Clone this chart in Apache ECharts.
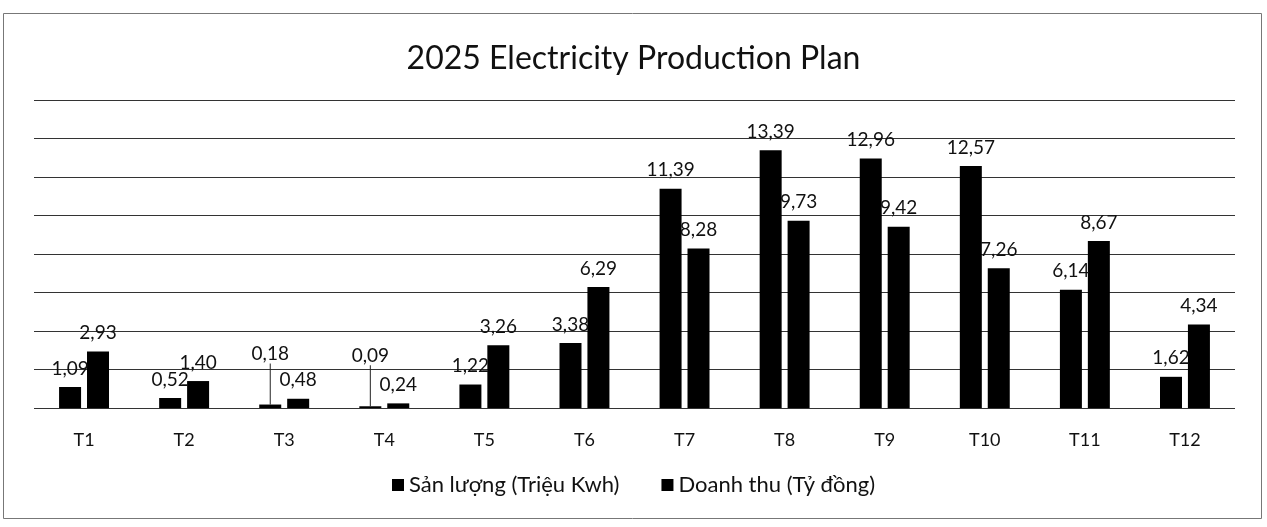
<!DOCTYPE html>
<html>
<head>
    <meta charset="utf-8">
    <title>2025 Electricity Production Plan</title>
    <script src="https://cdn.jsdelivr.net/npm/echarts@6/dist/echarts.min.js"></script>
    <style>
        body { margin: 0; background: #fff; }
    </style>
</head>
<body>
    <div id="main" style="width: 1267px;height:527px;"></div>
    <script type="text/javascript">
        var months = ['T1', 'T2', 'T3', 'T4', 'T5', 'T6', 'T7', 'T8', 'T9', 'T10', 'T11', 'T12'];
        var sanLuong = [1.09, 0.52, 0.18, 0.09, 1.22, 3.38, 11.39, 13.39, 12.96, 12.57, 6.14, 1.62];
        var doanhThu = [2.93, 1.40, 0.48, 0.24, 3.26, 6.29, 8.28, 9.73, 9.42, 7.26, 8.67, 4.34];
        var seriesNames = ['Sản lượng (Triệu Kwh)', 'Doanh thu (Tỷ đồng)'];

        var font = 'Lato, "Noto Sans", sans-serif';
        var myChart = echarts.init(document.getElementById('main'));

        function fmt(p) {
            return p.value.toFixed(2).replace('.', ',');
        }

        // T3, T4: nhan dat cao hon, co duong noi xuong cot
        var raised = [2, 3];
        var sanLuongData = sanLuong.map(function (v, i) {
            if (raised.indexOf(i) >= 0) {
                return { value: v, labelLine: { show: true } };
            }
            return v;
        });

        var barLabel = {
            show: true,
            position: 'top',
            distance: 9,
            color: '#111',
            fontSize: 19,
            fontFamily: font,
            formatter: fmt
        };

        var option = {
            animation: false,
            title: {
                text: '2025 Electricity Production Plan',
                left: 'center',
                top: 38,
                textStyle: { fontSize: 32, fontWeight: 'normal', color: '#111', fontFamily: font }
            },
            legend: {
                bottom: 26,
                left: 'center',
                itemWidth: 12,
                itemHeight: 12,
                itemGap: 42,
                icon: 'rect',
                textStyle: { fontSize: 22, color: '#111', fontFamily: font },
                data: seriesNames
            },
            grid: { left: 34, right: 32, top: 100, bottom: 119 },
            xAxis: {
                type: 'category',
                data: months,
                axisLine: { show: false },
                axisTick: { show: false },
                axisLabel: { fontSize: 18, color: '#111', fontFamily: font, margin: 23 }
            },
            yAxis: {
                type: 'value',
                min: 0,
                max: 16,
                interval: 2,
                axisLabel: { show: false },
                axisLine: { show: false },
                axisTick: { show: false },
                splitLine: { lineStyle: { color: '#333', width: 1.2 } }
            },
            series: [
                {
                    name: seriesNames[0],
                    type: 'bar',
                    data: sanLuongData,
                    barWidth: 22,
                    barGap: '27%',
                    itemStyle: { color: '#000' },
                    label: barLabel,
                    labelLine: { show: false, lineStyle: { color: '#222', width: 1 } },
                    labelLayout: function (p) {
                        if (raised.indexOf(p.dataIndex) >= 0) {
                            return { dy: -32 };
                        }
                        return {};
                    }
                },
                {
                    name: seriesNames[1],
                    type: 'bar',
                    data: doanhThu,
                    barWidth: 22,
                    itemStyle: { color: '#000' },
                    label: barLabel
                }
            ],
            graphic: [{
                type: 'rect',
                shape: { x: 3.5, y: 13.5, width: 1258, height: 505 },
                style: { fill: 'none', stroke: '#777', lineWidth: 1 },
                silent: true
            }]
        };
        myChart.setOption(option);
    </script>
</body>
</html>
